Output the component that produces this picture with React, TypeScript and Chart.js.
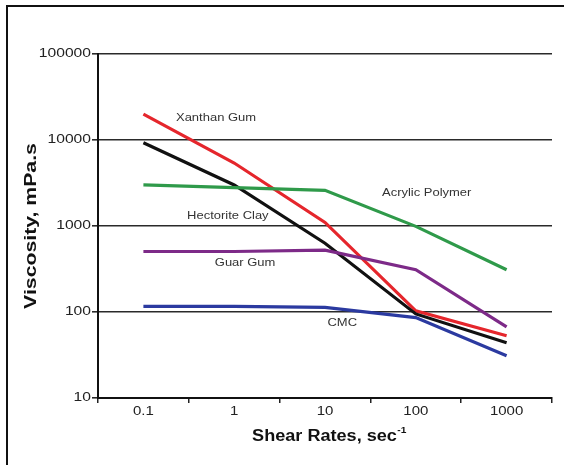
import React, { useEffect, useRef } from "react";
import { Chart, registerables } from "chart.js";

Chart.register(...registerables);

const shearRates = ["0.1", "1", "10", "100", "1000"];
const yTickValues = [10, 100, 1000, 10000, 100000];
const yTickLabels = ["10", "100", "1000", "10000", "100000"];

const xanthanGum = [20000, 5400, 1100, 103, 53];
const hectoriteClay = [9300, 3000, 630, 95, 44];
const acrylicPolymer = [3000, 2800, 2600, 990, 310];
const guarGum = [505, 505, 525, 310, 67];
const cmc = [116, 116, 113, 86, 31];

const seriesNames = ["Xanthan Gum", "Hectorite Clay", "Acrylic Polymer", "Guar Gum", "CMC"];
// annotation anchors in data coordinates (category index, viscosity)
const labelIndex = [0.8, 0.93, 3.12, 1.12, 2.19];
const labelValue = [18000, 1300, 2420, 372, 74.5];

const FONT = "'Liberation Sans', Arial, Helvetica, sans-serif";

function drawText(ctx: CanvasRenderingContext2D, text: string, x: number, y: number, font: string, align: CanvasTextAlign, sx: number, color = "#222") {
  ctx.save();
  ctx.translate(x, y);
  ctx.scale(sx, 1);
  ctx.font = font;
  ctx.fillStyle = color;
  ctx.textAlign = align;
  ctx.textBaseline = "middle";
  ctx.fillText(text, 0, 0);
  ctx.restore();
}

const decorPlugin = {
  id: "decor",
  beforeDraw(chart: any) {
    const ctx = chart.ctx as CanvasRenderingContext2D;
    ctx.save();
    ctx.fillStyle = "#fff";
    ctx.fillRect(0, 0, chart.width, chart.height);
    ctx.strokeStyle = "#111";
    ctx.lineWidth = 2;
    ctx.beginPath();
    ctx.moveTo(chart.width, 6);
    ctx.lineTo(7, 6);
    ctx.lineTo(7, chart.height);
    ctx.stroke();
    ctx.restore();
  },
  afterDraw(chart: any) {
    const ctx = chart.ctx as CanvasRenderingContext2D;
    const xs = chart.scales.x;
    const ys = chart.scales.y;
    const area = chart.chartArea;
    // y tick labels
    yTickValues.forEach((v, i) => {
      drawText(ctx, yTickLabels[i], area.left - 7, ys.getPixelForValue(v), `12.5px ${FONT}`, "right", 1.25);
    });
    // x tick labels
    shearRates.forEach((l, i) => {
      drawText(ctx, l, xs.getPixelForValue(i), area.bottom + 14, `12.5px ${FONT}`, "center", 1.2);
    });
    // series annotations
    seriesNames.forEach((n, i) => {
      drawText(ctx, n, xs.getPixelForValue(labelIndex[i]), ys.getPixelForValue(labelValue[i]), `11px ${FONT}`, "center", 1.18, "#333");
    });
    // x title with superscript
    ctx.save();
    const main = "Shear Rates, sec";
    const sup = "-1";
    ctx.font = `bold 16px ${FONT}`;
    const sx = 1.13;
    const wMain = ctx.measureText(main).width * sx;
    ctx.font = `bold 9px ${FONT}`;
    const wSup = ctx.measureText(sup).width * sx;
    ctx.restore();
    const cx = (area.left + area.right) / 2 + 4;
    const startX = cx - (wMain + wSup) / 2;
    drawText(ctx, main, startX, 437, `bold 16px ${FONT}`, "left", sx, "#111");
    drawText(ctx, sup, startX + wMain + 0.5, 431, `bold 9px ${FONT}`, "left", sx, "#111");
    // y title rotated
    ctx.save();
    ctx.translate(31, (area.top + area.bottom) / 2);
    ctx.rotate(-Math.PI / 2);
    ctx.scale(1.25, 1);
    ctx.font = `bold 17px ${FONT}`;
    ctx.fillStyle = "#111";
    ctx.textAlign = "center";
    ctx.textBaseline = "middle";
    ctx.fillText("Viscosity, mPa.s", 0, 0);
    ctx.restore();
  },
};

export default function App() {
  const ref = useRef<HTMLCanvasElement>(null);
  useEffect(() => {
    if (!ref.current) return;
    const mk = (label: string, data: number[], color: string) => ({
      label,
      data,
      borderColor: color,
      backgroundColor: color,
      borderWidth: 3.2,
      pointRadius: 0,
      tension: 0,
      fill: false,
    });
    const chart = new Chart(ref.current, {
      type: "line",
      data: {
        labels: shearRates,
        datasets: [
          mk("Acrylic Polymer", acrylicPolymer, "#2f9a4a"),
          mk("Guar Gum", guarGum, "#7d2a88"),
          mk("CMC", cmc, "#2b3aa0"),
          mk("Hectorite Clay", hectoriteClay, "#111111"),
          mk("Xanthan Gum", xanthanGum, "#e5262c"),
        ],
      },
      options: {
        responsive: false,
        animation: false,
        layout: { padding: { top: 54, right: 12, left: 0, bottom: 0 } },
        plugins: { legend: { display: false }, tooltip: { enabled: false } },
        scales: {
          x: {
            type: "category",
            offset: true,
            grid: { offset: true, drawOnChartArea: false, drawTicks: true, tickLength: 5, color: "#222", lineWidth: 1.5 },
            border: { display: true, color: "#111", width: 2 },
            ticks: { display: false },
            afterFit: (s: any) => { s.height = 67; },
          },
          y: {
            type: "logarithmic",
            min: 10,
            max: 100000,
            afterBuildTicks: (s: any) => { s.ticks = yTickValues.map((v) => ({ value: v })); },
            grid: { color: "#2a2a2a", lineWidth: 1.6, drawTicks: true, tickLength: 6 },
            border: { display: true, color: "#111", width: 2 },
            ticks: { display: false },
            afterFit: (s: any) => { s.width = 98; },
          },
        },
      },
      plugins: [decorPlugin],
    } as any);
    return () => chart.destroy();
  }, []);
  return (
    <div style={{ position: "fixed", left: 0, top: 0, width: 564, height: 465, background: "#fff" }}>
      <canvas ref={ref} width={564} height={465} style={{ display: "block" }} />
    </div>
  );
}
